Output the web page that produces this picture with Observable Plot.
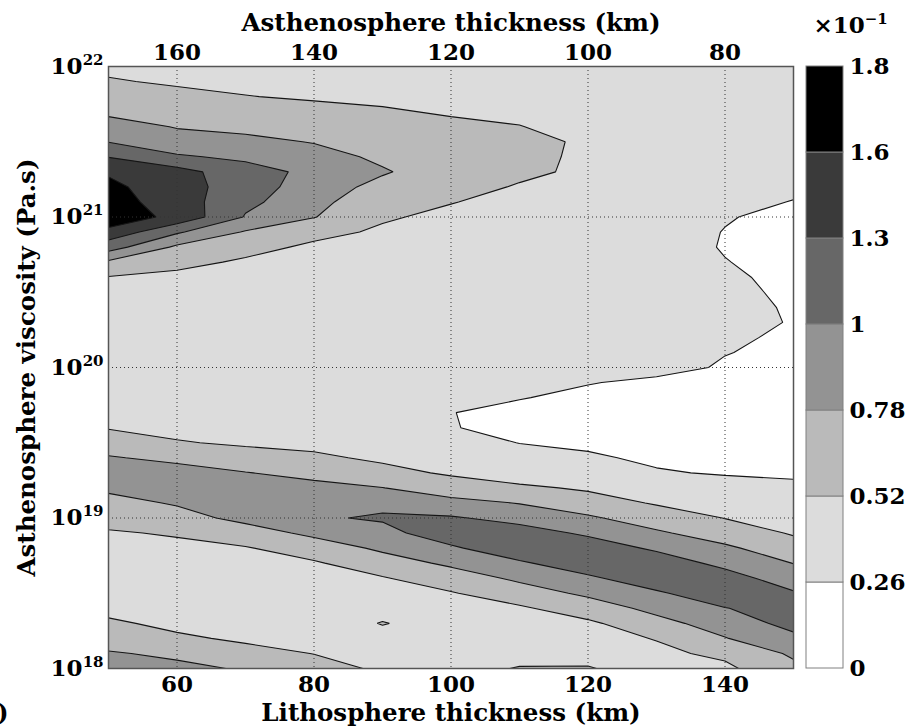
<!DOCTYPE html>
<html><head><meta charset="utf-8">
<script src="https://cdn.jsdelivr.net/npm/d3@7"></script>
<script src="https://cdn.jsdelivr.net/npm/@observablehq/plot@0.6"></script>
<style>
html,body{margin:0;padding:0;background:#fff;}
#chart{position:relative;width:910px;height:728px;overflow:hidden;}
#chart svg{position:absolute;top:0;}
</style></head><body><div id="chart"></div>
<script>
// Grid of the field (values in units of 1e-1), columns = lithosphere thickness (km),
// rows = log10 of asthenosphere viscosity (Pa.s), from 18.0 to 22.0
const lithoColumns = [50, 60, 70, 80, 90, 100, 110, 120, 130, 140, 150];
const logViscRows = [18.0, 18.1, 18.2, 18.3, 18.4, 18.5, 18.6, 18.7, 18.8, 18.9,
  19.0, 19.1, 19.2, 19.3, 19.4, 19.5, 19.6, 19.7, 19.8, 19.9,
  20.0, 20.1, 20.2, 20.3, 20.4, 20.5, 20.6, 20.7, 20.8, 20.9,
  21.0, 21.1, 21.2, 21.3, 21.4, 21.5, 21.6, 21.7, 21.8, 21.9, 22.0];

const col50 = [0.88,0.80,0.68,0.56,0.45,0.43,0.42,0.42,0.46,0.50, 0.59,0.71,0.82,0.90,0.80,0.65,0.505,0.46,0.42,0.40, 0.38,0.38,0.39,0.40,0.42,0.44,0.51,0.74,1.10,1.52, 1.78,1.72,1.66,1.57,1.29,0.99,0.86,0.74,0.64,0.54, 0.47];
const col60 = [0.83,0.74,0.56,0.46,0.42,0.41,0.41,0.43,0.47,0.54, 0.70,0.80,0.92,0.88,0.72,0.535,0.46,0.43,0.40,0.38, 0.37,0.37,0.38,0.39,0.40,0.42,0.45,0.60,0.74,1.03, 1.52,1.46,1.45,1.42,1.03,0.85,0.77,0.69,0.58,0.49, 0.44];
const col70 = [0.76,0.60,0.48,0.42,0.40,0.40,0.41,0.44,0.50,0.68, 0.84,0.95,0.92,0.79,0.61,0.49,0.43,0.40,0.38,0.37, 0.36,0.36,0.37,0.38,0.39,0.40,0.43,0.48,0.61,0.76, 0.98,1.06,1.12,1.10,0.95,0.83,0.73,0.62,0.525,0.48, 0.45];
const col80 = [0.62,0.515,0.44,0.40,0.39,0.40,0.43,0.49,0.66,0.83, 0.97,0.96,0.86,0.70,0.56,0.46,0.41,0.38,0.36,0.35, 0.35,0.35,0.35,0.36,0.37,0.38,0.40,0.42,0.47,0.60, 0.79,0.84,0.88,0.94,0.86,0.77,0.66,0.57,0.50,0.46, 0.43];
const col90 = [0.48,0.45,0.45,0.53,0.45,0.44,0.50,0.68,0.82,0.92, 1.03,0.94,0.785,0.59,0.48,0.42,0.38,0.35,0.34,0.34, 0.34,0.34,0.34,0.35,0.36,0.37,0.39,0.41,0.43,0.48, 0.55,0.64,0.72,0.80,0.74,0.68,0.62,0.54,0.48,0.44, 0.41];
const col100 = [0.46,0.44,0.43,0.43,0.44,0.50,0.67,0.82,0.96,1.15, 1.02,0.86,0.64,0.49,0.36,0.30,0.27,0.265,0.30,0.30, 0.31,0.32,0.33,0.34,0.35,0.36,0.37,0.38,0.40,0.42, 0.46,0.53,0.61,0.67,0.66,0.63,0.56,0.50,0.46,0.42, 0.40];
const col110 = [0.53,0.46,0.43,0.44,0.48,0.68,0.82,0.96,1.18,1.08, 0.94,0.77,0.56,0.40,0.30,0.258,0.20,0.20,0.27,0.285, 0.29,0.30,0.31,0.32,0.33,0.34,0.35,0.36,0.37,0.39, 0.41,0.44,0.50,0.57,0.59,0.58,0.525,0.48,0.43,0.40, 0.38];
const col120 = [0.53,0.47,0.44,0.47,0.67,0.82,0.95,1.17,1.10,0.97, 0.82,0.62,0.49,0.35,0.275,0.24,0.18,0.18,0.21,0.27, 0.30,0.31,0.31,0.32,0.32,0.33,0.33,0.34,0.35,0.36, 0.38,0.40,0.44,0.475,0.475,0.49,0.46,0.43,0.40,0.38, 0.36];
const col130 = [0.45,0.47,0.53,0.71,0.84,0.96,1.17,1.10,0.97,0.82, 0.64,0.50,0.36,0.27,0.24,0.18,0.16,0.16,0.18,0.22, 0.323,0.33,0.33,0.34,0.34,0.33,0.33,0.33,0.33,0.33, 0.35,0.37,0.39,0.41,0.42,0.42,0.41,0.39,0.37,0.36, 0.35];
const col140 = [0.47,0.57,0.77,0.88,0.99,1.18,1.08,0.95,0.83,0.64, 0.515,0.40,0.31,0.25,0.21,0.18,0.16,0.16,0.18,0.20, 0.24,0.266,0.29,0.34,0.32,0.30,0.285,0.265,0.25,0.255, 0.27,0.30,0.32,0.34,0.36,0.37,0.37,0.36,0.35,0.34, 0.33];
const col150 = [0.72,0.82,0.95,1.07,1.14,1.02,0.90,0.775,0.61,0.50, 0.43,0.35,0.28,0.245,0.22,0.20,0.18,0.17,0.17,0.18, 0.20,0.22,0.23,0.245,0.24,0.23,0.22,0.21,0.20,0.20, 0.22,0.255,0.29,0.32,0.34,0.35,0.35,0.34,0.34,0.33, 0.32];
const valueColumns = [col50, col60, col70, col80, col90, col100, col110, col120, col130, col140, col150];

// Contour levels and colours
const thresholds = [0, 0.26, 0.52, 0.78, 1.0, 1.3, 1.6];
const bandColors = ["#ffffff", "#dcdcdc", "#bababa", "#939393", "#676767", "#3a3a3a", "#000000"];
const colorbarLabels = ["0", "0.26", "0.52", "0.78", "1", "1.3", "1.6", "1.8"];
const colorbarTitle = "×10^−1";

// Axes (y is drawn in log10 units of viscosity, labelled as powers of ten)
const lithoTicks = [60, 80, 100, 120, 140];
const asthTicks = [160, 140, 120, 100, 80];
const asthToLitho = (a) => 220 - a;
const viscExponents = [18, 19, 20, 21, 22];
const viscGrid = [19, 20, 21];
const xLabel = "Lithosphere thickness (km)";
const topLabel = "Asthenosphere thickness (km)";
const yLabel = "Asthenosphere viscosity (Pa.s)";

// Row-major grid, first row at the lowest viscosity
const grid = logViscRows.flatMap((_, j) => valueColumns.map((col) => col[j]));
const halfX = (lithoColumns[1] - lithoColumns[0]) / 2;
const halfY = (logViscRows[1] - logViscRows[0]) / 2;

const font = {fontFamily: "DejaVu Serif", fontWeight: "bold", fontSize: 23};
const labelFont = {fontFamily: "DejaVu Serif", fontWeight: "bold", fontSize: 24.5};
const style = {fontFamily: "DejaVu Serif", fontSize: "23px", fontWeight: "bold", background: "white", color: "black", overflow: "visible"};

const main = Plot.plot({
  width: 800, height: 728,
  marginLeft: 108, marginRight: 7, marginTop: 66, marginBottom: 60,
  style,
  x: {domain: [50, 150], label: null},
  y: {domain: [viscExponents[0], viscExponents[viscExponents.length - 1]], label: null},
  color: {type: "threshold", domain: thresholds.slice(1), range: bandColors},
  marks: [
    Plot.contour(grid, {
      width: lithoColumns.length, height: logViscRows.length,
      x1: lithoColumns[0] - halfX, x2: lithoColumns[lithoColumns.length - 1] + halfX,
      y1: logViscRows[0] - halfY, y2: logViscRows[logViscRows.length - 1] + halfY,
      thresholds, fill: Plot.identity, stroke: "#151515", strokeWidth: 1.1, clip: true
    }),
    Plot.ruleX(lithoTicks, {stroke: "#333", strokeWidth: 1, strokeDasharray: "1,3"}),
    Plot.ruleY(viscGrid, {stroke: "#333", strokeWidth: 1, strokeDasharray: "1,3"}),
    Plot.frame({stroke: "#555", strokeWidth: 1.5}),
    Plot.axisX({anchor: "bottom", ticks: lithoTicks, tickSize: 0, tickPadding: 7, label: null, ...font}),
    Plot.axisX({anchor: "top", ticks: asthTicks.map(asthToLitho), tickFormat: (d) => String(asthTicks[asthTicks.map(asthToLitho).indexOf(d)]), tickSize: 0, tickPadding: 7, label: null, ...font}),
    Plot.axisY({ticks: viscExponents, tickFormat: (d) => "10^" + d, tickSize: 0, tickPadding: 5, label: null, ...font}),
    Plot.text([xLabel], {frameAnchor: "bottom", dy: 52, text: (d) => d, ...labelFont}),
    Plot.text([topLabel], {frameAnchor: "top", dy: -53, text: (d) => d, ...labelFont}),
    Plot.text([yLabel], {frameAnchor: "left", dx: -81, rotate: -90, textAnchor: "middle", lineAnchor: "middle", text: (d) => d, ...labelFont}),
    Plot.text([")"], {frameAnchor: "bottom-left", dx: -100, dy: 52, textAnchor: "end", text: (d) => d, ...labelFont})
  ]
});

const cbar = Plot.plot({
  width: 110, height: 728,
  marginLeft: 6, marginRight: 67, marginTop: 66, marginBottom: 60,
  style,
  x: {domain: [0, 1], axis: null},
  y: {domain: [0, bandColors.length], axis: null},
  color: {type: "identity"},
  marks: [
    Plot.rect(bandColors, {x1: 0, x2: 1, y1: (d, i) => i, y2: (d, i) => i + 1, fill: (d) => d, stroke: "#808080", strokeWidth: 1}),
    Plot.text(colorbarLabels, {x: 1, y: (d, i) => i, text: (d) => d, textAnchor: "start", dx: 6, ...font}),
    Plot.text([colorbarTitle], {frameAnchor: "top-left", dx: 7, dy: -50, textAnchor: "start", text: (d) => d, ...font})
  ]
});

function applySuperscripts(svg) {
  d3.select(svg).selectAll("text").each(function () {
    const t = this.textContent;
    const m = /^(.*)\^(.+)$/.exec(t);
    if (!m) return;
    const el = d3.select(this);
    el.text(null);
    el.append("tspan").text(m[1]);
    el.append("tspan").attr("dy", "-9").attr("font-size", "15px").text(m[2]);
  });
}
applySuperscripts(main);
applySuperscripts(cbar);

const chart = document.getElementById("chart");
main.style.left = "0px";
cbar.style.left = "800px";
chart.appendChild(main);
chart.appendChild(cbar);
</script></body></html>
